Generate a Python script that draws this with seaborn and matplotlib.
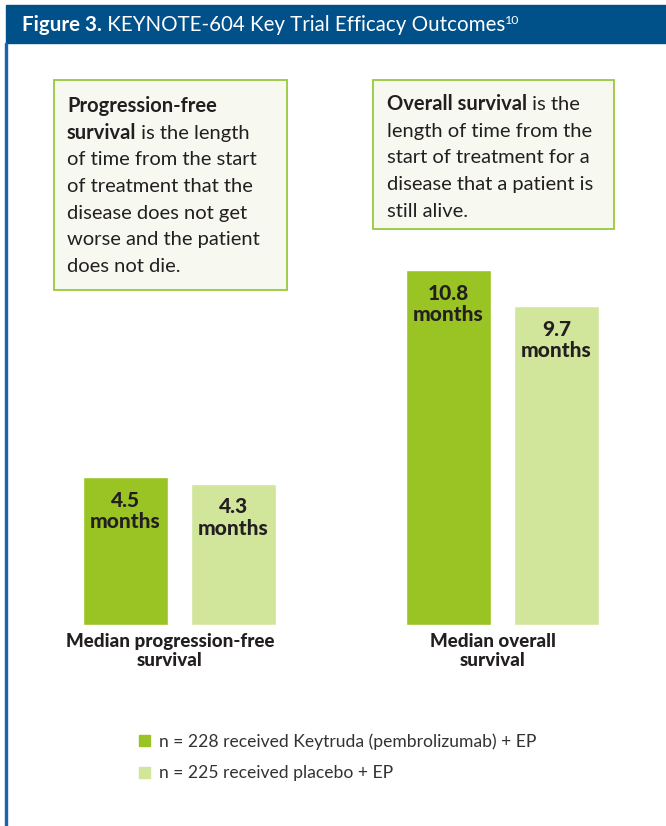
import pandas as pd
import matplotlib.pyplot as plt
import matplotlib.patches as mpatches
import seaborn as sns

# Data
outcomes = ["Median progression-free\nsurvival", "Median overall\nsurvival"]
groups = ["n = 228 received Keytruda (pembrolizumab) + EP",
          "n = 225 received placebo + EP"]
keytruda_months = [4.5, 10.8]
placebo_months = [4.3, 9.7]
colors = ["#99c424", "#d1e59b"]

title_bold = "Figure 3."
title_rest = " KEYNOTE-604 Key Trial Efficacy Outcomes"
title_sup = "10"

pfs_bold = ["Progression-free", "survival"]
pfs_lines = [" is the length", "of time from the start", "of treatment that the",
             "disease does not get", "worse and the patient", "does not die."]
os_bold = ["Overall survival"]
os_lines = [" is the", "length of time from the", "start of treatment for a",
            "disease that a patient is", "still alive."]

df = pd.DataFrame({
    "outcome": outcomes * 2,
    "group": [groups[0]] * 2 + [groups[1]] * 2,
    "months": keytruda_months + placebo_months,
})

sns.set_style("white")
plt.rcParams["font.family"] = ["Lato", "DejaVu Sans"]

W, H = 666, 826
fig = plt.figure(figsize=(W / 100, H / 100), dpi=100)


def fx(x):
    return x / W


def fy(y):
    return 1 - y / H


# bars: one axes over the whole figure, scaled so bars land where they should
ax = fig.add_axes([0, 0, 1, 1])
sns.barplot(data=df, x="outcome", y="months", hue="group", palette=colors,
            saturation=1, width=0.669, gap=0.213, legend=False, ax=ax)
scale = 32.9  # px per month
base = 625
ax.set_xlim(-179.5 / 323, (W - 179.5) / 323)
ax.set_ylim(-(H - base) / scale, base / scale)
ax.axis("off")

for bar in ax.patches:
    h = bar.get_height()
    if h <= 0:
        continue
    ax.annotate(f"{h:g}\nmonths", (bar.get_x() + bar.get_width() / 2, h),
                xytext=(0, -10), textcoords="offset points", ha="center", va="top",
                fontsize=15, fontweight="black", color="#231f20", linespacing=1.15)

for i, lab in enumerate(outcomes):
    ax.annotate(lab, (i - 0.03, 0), xytext=(0, -6), textcoords="offset points",
                ha="center", va="top", fontsize=13.5, fontweight="black",
                color="#231f20", linespacing=1.12)

# frame: title bar + left rule
fig.patches.append(mpatches.Rectangle((fx(6), fy(43)), 1 - fx(6), 38 / H,
                                      transform=fig.transFigure, color="#005089"))
fig.patches.append(mpatches.Rectangle((fx(5), 0), 2 / W, fy(43),
                                      transform=fig.transFigure, color="#1a64ad"))

renderer = fig.canvas.get_renderer()


def inline(x, y, pieces, color, size):
    # pieces: (text, weight, size factor, raise px)
    for text, weight, f, up in pieces:
        t = fig.text(fx(x), fy(y + up), text, fontsize=size * f, fontweight=weight,
                     color=color, va="baseline", ha="left")
        bb = t.get_window_extent(renderer)
        x += bb.width


inline(22, 31, [(title_bold, "bold", 1, 0), (title_rest, "normal", 1, 0),
                (title_sup, "normal", 0.6, -7)], "white", 14.8)

# definition boxes
for (x0, y0, x1, y1) in [(54, 80, 287, 290), (373, 80, 614, 229)]:
    fig.patches.append(mpatches.Rectangle((fx(x0), fy(y1)), (x1 - x0) / W, (y1 - y0) / H,
                                          transform=fig.transFigure, facecolor="#f7f9f1",
                                          edgecolor="#97c93d", linewidth=1.3))

step = 26.7
body = 14.5
tx, ty = 67, 112
inline(tx, ty, [(pfs_bold[0], "bold", 1, 0)], "#231f20", body)
inline(tx, ty + step, [(pfs_bold[1], "bold", 1, 0), (pfs_lines[0], "normal", 1, 0)],
       "#231f20", body)
for k, line in enumerate(pfs_lines[1:]):
    inline(tx, ty + step * (k + 2), [(line, "normal", 1, 0)], "#231f20", body)

tx, ty = 387, 110
inline(tx, ty, [(os_bold[0], "bold", 1, 0), (os_lines[0], "normal", 1, 0)],
       "#231f20", body)
for k, line in enumerate(os_lines[1:]):
    inline(tx, ty + step * (k + 1), [(line, "normal", 1, 0)], "#231f20", body)

# legend
handles = [mpatches.Patch(color=c) for c in colors]
fig.legend(handles, groups, loc="upper left", bbox_to_anchor=(fx(139), fy(733)),
           frameon=False, fontsize=12.6, handlelength=0.6, handleheight=0.6,
           handletextpad=0.55, labelspacing=0.9, borderpad=0, borderaxespad=0,
           labelcolor="#333333")

fig.savefig("out.png", dpi=100)
